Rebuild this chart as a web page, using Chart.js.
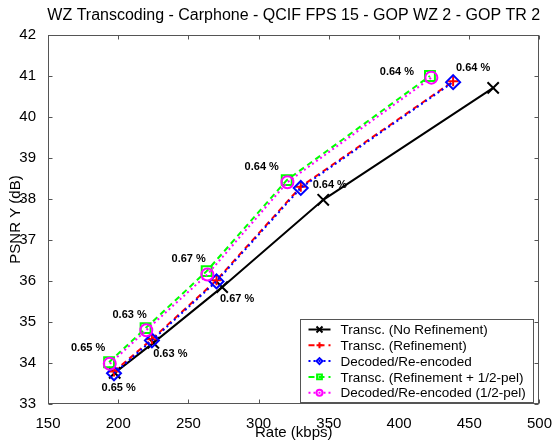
<!DOCTYPE html>
<html>
<head>
<meta charset="utf-8">
<script src="https://cdn.jsdelivr.net/npm/chart.js@4.4.1/dist/chart.umd.min.js"></script>
<style>
  html, body { margin: 0; padding: 0; background: #fff; }
  #wrap { width: 555px; height: 442px; }
</style>
</head>
<body>
<div id="wrap"><canvas id="chart" width="555" height="442"></canvas></div>
<script>
// rate (kbps) / PSNR Y (dB) per configuration
const rateNoRef = [197.5, 225, 274, 346, 467];
const psnrNoRef = [33.76, 34.49, 35.85, 37.98, 40.71];

const rateRef = [197, 224, 270, 330, 438.5];
const psnrRef = [33.79, 34.58, 36.02, 38.3, 40.87];

const rateDec = [197, 224, 270, 330, 438.5];
const psnrDec = [33.75, 34.55, 35.99, 38.27, 40.85];

const rateRefHalf = [193.5, 219.5, 263, 320, 422];
const psnrRefHalf = [34.02, 34.85, 36.24, 38.46, 41.0];

const rateDecHalf = [194, 220, 263.5, 320.5, 423];
const psnrDecHalf = [33.98, 34.8, 36.16, 38.41, 40.96];

const seriesNames = [
  'Transc. (No Refinement)',
  'Transc. (Refinement)',
  'Decoded/Re-encoded',
  'Transc. (Refinement + 1/2-pel)',
  'Decoded/Re-encoded (1/2-pel)'
];

// percentage notes: upper ones sit on the 1/2-pel curve, lower ones on the others
const upperNotes = ['0.65 %', '0.63 %', '0.67 %', '0.64 %', '0.64 %'];
const lowerNotes = ['0.65 %', '0.63 %', '0.67 %', '0.64 %', '0.64 %'];

const titleText = 'WZ Transcoding - Carphone - QCIF FPS 15 - GOP WZ 2 - GOP TR 2';
const xTitle = 'Rate (kbps)';
const yTitle = 'PSNR Y (dB)';

const FONT = "'Liberation Sans', Arial, sans-serif";

function pts(xs, ys) {
  return xs.map((x, i) => ({ x: x, y: ys[i] }));
}

const datasets = [
  {
    label: seriesNames[0], data: pts(rateNoRef, psnrNoRef),
    borderColor: '#000', borderWidth: 2, pointStyle: 'crossRot', pointRadius: 8,
    pointBorderWidth: 2, order: 5
  },
  {
    label: seriesNames[1], data: pts(rateRef, psnrRef),
    borderColor: '#ff0000', borderWidth: 2, borderDash: [6, 4], pointStyle: 'cross', pointRadius: 5,
    pointBorderWidth: 2, order: 4
  },
  {
    label: seriesNames[2], data: pts(rateDec, psnrDec),
    borderColor: '#0000ff', borderWidth: 2, borderDash: [2, 3], pointStyle: 'rectRot', pointRadius: 7,
    pointBorderWidth: 2, order: 3
  },
  {
    label: seriesNames[3], data: pts(rateRefHalf, psnrRefHalf),
    borderColor: '#00ff00', borderWidth: 2, borderDash: [6, 4], pointStyle: 'rect', pointRadius: 7,
    pointBorderWidth: 2, order: 2
  },
  {
    label: seriesNames[4], data: pts(rateDecHalf, psnrDecHalf),
    borderColor: '#ff00ff', borderWidth: 2, borderDash: [2, 3], pointStyle: 'circle', pointRadius: 6,
    pointBorderWidth: 2, order: 1
  }
];
datasets.forEach(d => {
  d.showLine = true;
  d.fill = false;
  d.tension = 0;
  d.backgroundColor = 'rgba(0,0,0,0)';
  d.pointBackgroundColor = 'rgba(0,0,0,0)';
  d.pointBorderColor = d.borderColor;
  d.pointHoverRadius = d.pointRadius;
});

// note offsets in px from the anchor point
const upperOffsets = [[-21, -14], [-16, -13], [-18, -12], [-25, -13], [-33, -4]];
const lowerAnchors = [0, 0, 0, 2, 2];
const lowerOffsets = [[4, 15], [17, 11], [15, 12], [29, -3], [20, -14]];

const notesPlugin = {
  id: 'notes',
  afterDatasetsDraw(chart) {
    const { ctx } = chart;
    const upper = chart.getDatasetMeta(3).data;
    ctx.save();
    ctx.font = 'bold 11px ' + FONT;
    ctx.fillStyle = '#000';
    ctx.textAlign = 'center';
    ctx.textBaseline = 'middle';
    upperNotes.forEach((t, i) => {
      const p = upper[i];
      ctx.fillText(t, p.x + upperOffsets[i][0], p.y + upperOffsets[i][1]);
    });
    lowerNotes.forEach((t, i) => {
      const p = chart.getDatasetMeta(lowerAnchors[i]).data[i];
      ctx.fillText(t, p.x + lowerOffsets[i][0], p.y + lowerOffsets[i][1]);
    });
    ctx.restore();
  }
};

function drawMarker(ctx, style, x, y, r) {
  ctx.beginPath();
  if (style === 'crossRot') {
    ctx.moveTo(x - r, y - r); ctx.lineTo(x + r, y + r);
    ctx.moveTo(x + r, y - r); ctx.lineTo(x - r, y + r);
  } else if (style === 'cross') {
    ctx.moveTo(x - r, y); ctx.lineTo(x + r, y);
    ctx.moveTo(x, y - r); ctx.lineTo(x, y + r);
  } else if (style === 'rectRot') {
    ctx.moveTo(x, y - r); ctx.lineTo(x + r, y); ctx.lineTo(x, y + r); ctx.lineTo(x - r, y); ctx.closePath();
  } else if (style === 'rect') {
    ctx.rect(x - r * 0.8, y - r * 0.8, r * 1.6, r * 1.6);
  } else {
    ctx.arc(x, y, r, 0, Math.PI * 2);
  }
  ctx.stroke();
}

const framePlugin = {
  id: 'frame',
  afterDraw(chart) {
    const { ctx, chartArea: a, scales } = chart;
    const L = Math.round(a.left) + 0.5, R = Math.round(a.right) - 0.5;
    const T = Math.round(a.top) + 0.5, B = Math.round(a.bottom) - 0.5;
    ctx.save();
    ctx.strokeStyle = '#555';
    ctx.lineWidth = 1;
    ctx.strokeRect(L, T, R - L, B - T);
    // inward ticks on all four sides
    const tl = 4;
    ctx.beginPath();
    scales.x.ticks.forEach(t => {
      const px = Math.round(scales.x.getPixelForValue(t.value)) + 0.5;
      ctx.moveTo(px, B); ctx.lineTo(px, B - tl);
      ctx.moveTo(px, T); ctx.lineTo(px, T + tl);
    });
    scales.y.ticks.forEach(t => {
      const py = Math.round(scales.y.getPixelForValue(t.value)) + 0.5;
      ctx.moveTo(L, py); ctx.lineTo(L + tl, py);
      ctx.moveTo(R, py); ctx.lineTo(R - tl, py);
    });
    ctx.stroke();

    // titles
    ctx.fillStyle = '#000';
    ctx.textAlign = 'center';
    ctx.textBaseline = 'middle';
    ctx.font = '16px ' + FONT;
    ctx.fillText(titleText, (a.left + a.right) / 2, 16);
    ctx.font = '15px ' + FONT;
    ctx.fillText(xTitle, (a.left + a.right) / 2, 433);
    ctx.save();
    ctx.translate(16, (a.top + a.bottom) / 2);
    ctx.rotate(-Math.PI / 2);
    ctx.fillText(yTitle, 0, 0);
    ctx.restore();

    // legend box in the lower right corner
    const bw = 233, bh = 83;
    const bx = Math.round(a.right) - 6 - bw + 0.5, by = Math.round(a.bottom) - 2 - bh + 0.5;
    ctx.fillStyle = '#fff';
    ctx.fillRect(bx, by, bw, bh);
    ctx.strokeStyle = '#555';
    ctx.lineWidth = 1;
    ctx.strokeRect(bx, by, bw, bh);
    ctx.font = '13.5px ' + FONT;
    ctx.textAlign = 'left';
    chart.data.datasets.forEach((d, i) => {
      const yy = by + 10 + i * 15.8;
      ctx.strokeStyle = d.borderColor;
      ctx.lineWidth = 2;
      ctx.setLineDash(d.borderDash || []);
      ctx.beginPath();
      ctx.moveTo(bx + 8, yy); ctx.lineTo(bx + 30, yy);
      ctx.stroke();
      ctx.setLineDash([]);
      drawMarker(ctx, d.pointStyle, bx + 19, yy, 3);
      ctx.fillStyle = '#000';
      ctx.fillText(d.label, bx + 40, yy + 1);
    });
    ctx.restore();
  }
};

new Chart(document.getElementById('chart').getContext('2d'), {
  type: 'scatter',
  data: { datasets: datasets },
  options: {
    responsive: false,
    animation: false,
    layout: { padding: { top: 35, right: 13, left: 0, bottom: 0 } },
    plugins: {
      legend: { display: false },
      tooltip: { enabled: false },
      title: { display: false }
    },
    scales: {
      x: {
        type: 'linear', min: 150, max: 500,
        grid: { display: false },
        border: { display: false },
        ticks: { stepSize: 50, color: '#000', padding: 3, maxRotation: 0, font: { family: FONT, size: 15 } },
        afterFit(scale) { scale.height = 38; }
      },
      y: {
        type: 'linear', min: 33, max: 42,
        grid: { display: false },
        border: { display: false },
        ticks: { stepSize: 1, color: '#000', padding: 4, font: { family: FONT, size: 15 } },
        afterFit(scale) { scale.width = 48; }
      }
    }
  },
  plugins: [notesPlugin, framePlugin]
});
</script>
</body>
</html>
